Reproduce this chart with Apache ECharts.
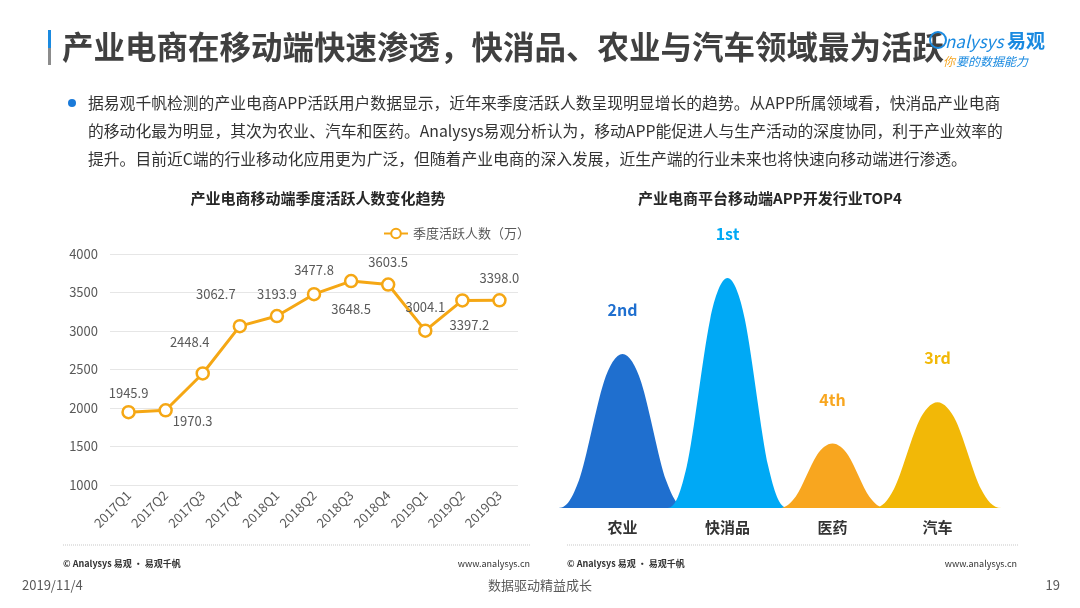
<!DOCTYPE html>
<html>
<head>
<meta charset="utf-8">
<script src="https://cdn.jsdelivr.net/npm/echarts@6/dist/echarts.min.js"></script>
<style>
html,body{margin:0;padding:0;background:#fff;}
#c{width:1080px;height:608px;}
</style>
</head>
<body>
<div id="c"></div>
<script>
// ---- Data ----
const quarters = ['2017Q1','2017Q2','2017Q3','2017Q4','2018Q1','2018Q2','2018Q3','2018Q4','2019Q1','2019Q2','2019Q3'];
const activeUsers = [1945.9, 1970.3, 2448.4, 3062.7, 3193.9, 3477.8, 3648.5, 3603.5, 3004.1, 3397.2, 3398.0];
const seriesName = '季度活跃人数（万）';
const yTicks = [1000, 1500, 2000, 2500, 3000, 3500, 4000];

const industries = ['农业', '快消品', '医药', '汽车'];
const industryIndex = [67, 100, 28, 46];   // relative activity (read from bell heights)
const rankLabels = ['2nd', '1st', '4th', '3rd'];

// ---- Styles (kept apart from data) ----
const FONT = '"Noto Sans CJK SC","Noto Sans",sans-serif';
const lineColor = '#F5A714';
const labelPlacement = [
  ['top', [0, 0]], ['bottom', [27, -8]], ['top', [-13, -13]], ['top', [-24, -13]],
  ['top', [0, -3]], ['top', [0, -5]], ['bottom', [0, 9]], ['top', [0, -4]],
  ['top', [0, -5]], ['bottom', [7, 6]], ['top', [0, -4]]
];
const bellColors = ['#1F6FCF', '#00A9F5', '#F8A61F', '#F2B807'];
const bellWidths = [128, 120, 108, 128];
const bellPath = 'path://M0,100 C7,100 11,93 16,82 C22,68 29,35 35.5,18 C39.5,7.6 45,0 50,0 C55,0 60.5,7.6 64.5,18 C71,35 78,68 84,82 C89,93 93,100 100,100 Z';

const chart = echarts.init(document.getElementById('c'), null, {renderer: 'canvas'});

const lineData = activeUsers.map((v, i) => ({
  value: v,
  label: {position: labelPlacement[i][0], offset: labelPlacement[i][1]}
}));
const bellData = industryIndex.map((v, i) => ({
  value: v,
  symbolSize: [bellWidths[i], '100%'],
  itemStyle: {color: bellColors[i]},
  label: {formatter: rankLabels[i], color: bellColors[i]}
}));

const option = {
  backgroundColor: '#fff',
  textStyle: {fontFamily: FONT},
  animation: false,
  title: [
    {text: '产业电商移动端季度活跃人数变化趋势', left: 313, top: 186, textAlign: 'center',
     textStyle: {fontSize: 15, fontWeight: 'bold', color: '#262626', fontFamily: FONT}},
    {text: '产业电商平台移动端APP开发行业TOP4', left: 765, top: 186, textAlign: 'center',
     textStyle: {fontSize: 15, fontWeight: 'bold', color: '#262626', fontFamily: FONT}}
  ],
  legend: {
    data: [seriesName], left: 378, top: 222, itemWidth: 24, itemHeight: 12, itemGap: 4,
    textStyle: {fontSize: 13, color: '#595959', fontFamily: FONT}
  },
  grid: [
    {left: 110, right: 562, top: 254, bottom: 123},
    {left: 570, right: 90, top: 232, bottom: 100}
  ],
  xAxis: [
    {type: 'category', gridIndex: 0, data: quarters, boundaryGap: true,
     axisLine: {show: false}, axisTick: {show: false},
     axisLabel: {rotate: 45, fontSize: 13, color: '#595959', margin: 8, interval: 0}},
    {type: 'category', gridIndex: 1, data: industries,
     axisLine: {show: false}, axisTick: {show: false},
     axisLabel: {fontSize: 15, fontWeight: 'bold', color: '#333', margin: 12, interval: 0}}
  ],
  yAxis: [
    {type: 'value', gridIndex: 0, min: yTicks[0], max: yTicks[yTicks.length - 1], interval: 500,
     axisLine: {show: false}, axisTick: {show: false},
     axisLabel: {fontSize: 13, color: '#595959', margin: 12, formatter: v => String(v)},
     splitLine: {lineStyle: {color: '#E6E6E6', width: 1}}},
    {type: 'value', gridIndex: 1, min: 0, max: 120, show: false, splitLine: {show: false}}
  ],
  series: [
    {name: seriesName, type: 'line', xAxisIndex: 0, yAxisIndex: 0, data: lineData,
     symbol: 'circle', symbolSize: 12, showAllSymbol: true,
     lineStyle: {color: lineColor, width: 3},
     itemStyle: {color: '#fff', borderColor: lineColor, borderWidth: 2.5},
     label: {show: true, fontSize: 13, color: '#595959', distance: 5,
             formatter: p => Number(p.value).toFixed(1)}},
    {name: 'TOP4', type: 'pictorialBar', xAxisIndex: 1, yAxisIndex: 1, data: bellData,
     symbol: bellPath, symbolRepeat: false, barCategoryGap: '0%',
     label: {show: true, position: 'top', distance: 36, fontSize: 16, fontWeight: 'bold', fontFamily: FONT}}
  ],
  graphic: [
    // title bar
    {type: 'rect', shape: {x: 48, y: 30, width: 3, height: 18}, style: {fill: '#1A8AE0'}},
    {type: 'rect', shape: {x: 48, y: 48, width: 3, height: 17}, style: {fill: '#8C8C8C'}},
    {type: 'text', style: {x: 62, y: 47, text: '产业电商在移动端快速渗透，快消品、农业与汽车领域最为活跃',
      font: 'bold 31.5px ' + FONT, fill: '#404040', verticalAlign: 'middle'}},
    // logo
    {type: 'circle', shape: {cx: 938, cy: 40, r: 8}, style: {fill: 'none', stroke: '#1A8AE0', lineWidth: 2}},
    {type: 'text', style: {x: 945, y: 42, text: 'nalysys', font: 'italic 17px ' + FONT, fill: '#1A8AE0', verticalAlign: 'middle'}},
    {type: 'text', style: {x: 1007, y: 41, text: '易观', font: 'bold 19px ' + FONT, fill: '#1A8AE0', verticalAlign: 'middle'}},
    {type: 'text', style: {x: 943, y: 61, text: '你', font: 'italic 12px ' + FONT, fill: '#F5A623', verticalAlign: 'middle'}},
    {type: 'text', style: {x: 956, y: 61, text: '要的数据能力', font: 'italic 12px ' + FONT, fill: '#1A8AE0', verticalAlign: 'middle'}},
    // bullet
    {type: 'circle', shape: {cx: 72, cy: 103, r: 4}, style: {fill: '#1A7AD9'}},
    {type: 'text', style: {x: 88, y: 103, text: '据易观千帆检测的产业电商APP活跃用户数据显示，近年来季度活跃人数呈现明显增长的趋势。从APP所属领域看，快消品产业电商',
      font: '15.8px ' + FONT, fill: '#333', verticalAlign: 'middle'}},
    {type: 'text', style: {x: 88, y: 131, text: '的移动化最为明显，其次为农业、汽车和医药。Analysys易观分析认为，移动APP能促进人与生产活动的深度协同，利于产业效率的',
      font: '15.8px ' + FONT, fill: '#333', verticalAlign: 'middle'}},
    {type: 'text', style: {x: 88, y: 159, text: '提升。目前近C端的行业移动化应用更为广泛，但随着产业电商的深入发展，近生产端的行业未来也将快速向移动端进行渗透。',
      font: '15.8px ' + FONT, fill: '#333', verticalAlign: 'middle'}},
    // footers
    {type: 'line', shape: {x1: 63, y1: 545, x2: 530, y2: 545}, style: {stroke: '#C8C8C8', lineWidth: 1, lineDash: [1, 1]}},
    {type: 'line', shape: {x1: 567, y1: 545, x2: 1018, y2: 545}, style: {stroke: '#C8C8C8', lineWidth: 1, lineDash: [1, 1]}},
    {type: 'text', style: {x: 63, y: 564, text: '© Analysys 易观 · 易观千帆', font: 'bold 9px ' + FONT, fill: '#333', verticalAlign: 'middle'}},
    {type: 'text', style: {x: 530, y: 564, text: 'www.analysys.cn', font: '9px ' + FONT, fill: '#333', verticalAlign: 'middle', align: 'right'}},
    {type: 'text', style: {x: 567, y: 564, text: '© Analysys 易观 · 易观千帆', font: 'bold 9px ' + FONT, fill: '#333', verticalAlign: 'middle'}},
    {type: 'text', style: {x: 1017, y: 564, text: 'www.analysys.cn', font: '9px ' + FONT, fill: '#333', verticalAlign: 'middle', align: 'right'}},
    {type: 'text', style: {x: 22, y: 585, text: '2019/11/4', font: '13px ' + FONT, fill: '#595959', verticalAlign: 'middle'}},
    {type: 'text', style: {x: 540, y: 585, text: '数据驱动精益成长', font: '13px ' + FONT, fill: '#595959', verticalAlign: 'middle', align: 'center'}},
    {type: 'text', style: {x: 1060, y: 585, text: '19', font: '13px ' + FONT, fill: '#595959', verticalAlign: 'middle', align: 'right'}}
  ]
};
chart.setOption(option);
</script>
</body>
</html>
